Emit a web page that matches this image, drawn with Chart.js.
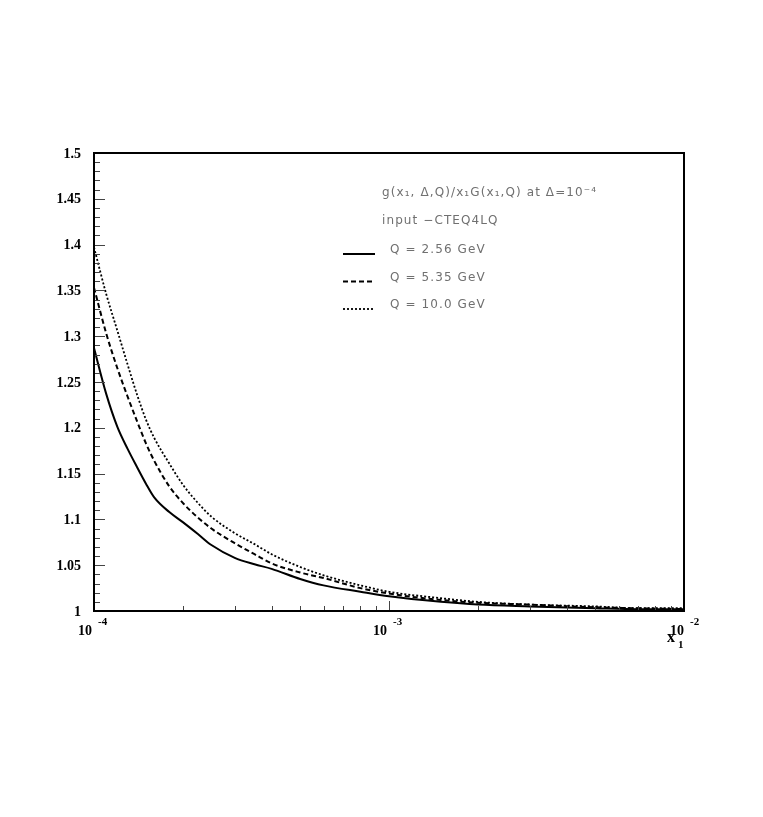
<!DOCTYPE html>
<html>
<head>
<meta charset="utf-8">
<script src="https://cdn.jsdelivr.net/npm/chart.js@4"></script>
<style>
    body { margin: 0; background: #fff; }
    #wrap { width: 763px; height: 817px; }
</style>
</head>
<body>
<div id="wrap"><canvas id="ratioChart" width="763" height="817"></canvas></div>
<script>
// x1 grid (log scale) and the three curves
const xValues = [1e-4, 1.1e-4, 1.2e-4, 1.3e-4, 1.4e-4, 1.5e-4, 1.6e-4, 1.8e-4, 2e-4, 2.25e-4,
    2.5e-4, 3e-4, 3.5e-4, 4e-4, 5e-4, 6e-4, 8e-4, 1e-3, 1.5e-3, 2e-3, 3e-3, 5e-3, 7e-3, 1e-2];
const q256 = [1.287, 1.237, 1.201, 1.177, 1.157, 1.139, 1.124, 1.108, 1.097, 1.084,
    1.072, 1.058, 1.051, 1.046, 1.035, 1.028, 1.021, 1.016, 1.010, 1.007, 1.005, 1.003, 1.002, 1.002];
const q535 = [1.353, 1.303, 1.265, 1.234, 1.207, 1.183, 1.164, 1.136, 1.118, 1.102,
    1.090, 1.074, 1.062, 1.052, 1.042, 1.036, 1.025, 1.019, 1.012, 1.009, 1.007, 1.004, 1.003, 1.002];
const q100 = [1.397, 1.346, 1.306, 1.269, 1.236, 1.209, 1.189, 1.161, 1.138, 1.118,
    1.103, 1.085, 1.073, 1.062, 1.048, 1.039, 1.028, 1.021, 1.014, 1.010, 1.007, 1.005, 1.003, 1.003];

// axis labels
const yTickLabels = [1, 1.05, 1.1, 1.15, 1.2, 1.25, 1.3, 1.35, 1.4, 1.45, 1.5];
const xTickExponents = [-4, -3, -2];
const seriesLabels = ['Q = 2.56 GeV', 'Q = 5.35 GeV', 'Q = 10.0 GeV'];

const dashes = [[], [5, 3], [2, 2]];
const widths = [2, 2, 1.8];
const seriesData = [q256, q535, q100];

// Draws ROOT-like frame, inner ticks, labels and the text box
const frameAndLabels = {
    id: 'frameAndLabels',
    afterDraw(chart) {
        const ctx = chart.ctx;
        const xs = chart.scales.x;
        const ys = chart.scales.y;
        const area = chart.chartArea;
        ctx.save();

        // y ticks every 0.01, longer every 0.05
        ctx.strokeStyle = '#444';
        ctx.lineWidth = 1;
        for (let i = 1; i < 50; i++) {
            const py = Math.round(ys.getPixelForValue(1 + i / 100)) + 0.5;
            const len = i % 5 === 0 ? 11 : 6;
            ctx.beginPath();
            ctx.moveTo(area.left, py);
            ctx.lineTo(area.left + len, py);
            ctx.stroke();
        }
        // x ticks: 2..9 in each decade, longer at decades
        for (let e = -4; e < -2; e++) {
            for (let m = 1; m < 10; m++) {
                if (e === -4 && m === 1) continue;
                const px = Math.round(xs.getPixelForValue(m * Math.pow(10, e))) + 0.5;
                const len = m === 1 ? 10 : 5;
                ctx.beginPath();
                ctx.moveTo(px, area.bottom);
                ctx.lineTo(px, area.bottom - len);
                ctx.stroke();
            }
        }

        // frame
        ctx.strokeStyle = '#000';
        ctx.lineWidth = 2;
        ctx.strokeRect(area.left, area.top, area.right - area.left, area.bottom - area.top);

        // y labels
        ctx.fillStyle = '#000';
        ctx.font = 'bold 14px "Liberation Serif"';
        ctx.textAlign = 'right';
        ctx.textBaseline = 'middle';
        yTickLabels.forEach(v => {
            ctx.fillText(String(v), area.left - 13, ys.getPixelForValue(v) + 1);
        });

        // x labels 10^n
        ctx.textBaseline = 'alphabetic';
        xTickExponents.forEach(e => {
            const px = xs.getPixelForValue(Math.pow(10, e));
            const shift = e === -2 ? 2 : 0;
            ctx.font = 'bold 14px "Liberation Serif"';
            ctx.textAlign = 'right';
            ctx.fillText('10', px - 2 + shift, area.bottom + 24);
            ctx.font = 'bold 11px "Liberation Serif"';
            ctx.textAlign = 'left';
            ctx.fillText(String(e), px + 4 + shift, area.bottom + 14);
        });
        ctx.font = 'bold 16px "Liberation Serif"';
        ctx.textAlign = 'left';
        ctx.fillText('x', 667, 642);
        ctx.font = 'bold 11px "Liberation Serif"';
        ctx.fillText('1', 678, 648);

        // text box
        ctx.fillStyle = '#707070';
        ctx.font = '12px "DejaVu Sans"';
        ctx.letterSpacing = '1.1px';
        ctx.textBaseline = 'middle';
        ctx.fillText('g(x\u2081, \u0394,Q)/x\u2081G(x\u2081,Q) at \u0394=10\u207B\u2074', 382, 193);
        ctx.fillText('input \u2212CTEQ4LQ', 382, 221);
        seriesLabels.forEach((label, i) => {
            const py = 250 + i * 27.5;
            ctx.fillStyle = '#707070';
            ctx.fillText(label, 390, py);
            ctx.strokeStyle = '#000';
            ctx.lineWidth = widths[i];
            ctx.setLineDash(dashes[i]);
            ctx.beginPath();
            ctx.moveTo(343, py + 4);
            ctx.lineTo(375, py + 4);
            ctx.stroke();
            ctx.setLineDash([]);
        });

        ctx.restore();
    }
};

document.addEventListener('DOMContentLoaded', function() {
    const ctx = document.getElementById('ratioChart').getContext('2d');
    new Chart(ctx, {
        type: 'line',
        data: {
            datasets: seriesData.map((vals, i) => ({
                label: seriesLabels[i],
                data: xValues.map((x, j) => ({ x: x, y: vals[j] })),
                borderColor: '#000',
                borderWidth: widths[i],
                borderDash: dashes[i],
                pointRadius: 0,
                fill: false,
                cubicInterpolationMode: 'monotone'
            }))
        },
        options: {
            responsive: false,
            animation: false,
            layout: {
                padding: { left: 94, right: 79, top: 153, bottom: 206 }
            },
            scales: {
                x: { type: 'logarithmic', min: 1e-4, max: 1e-2, display: false },
                y: { type: 'linear', min: 1, max: 1.5, display: false }
            },
            plugins: {
                legend: { display: false },
                tooltip: { enabled: false }
            }
        },
        plugins: [frameAndLabels]
    });
});
</script>
</body>
</html>
